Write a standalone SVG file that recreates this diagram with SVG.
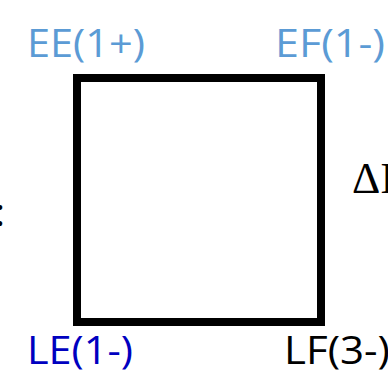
<svg xmlns="http://www.w3.org/2000/svg" width="388" height="389" viewBox="0 0 388 389">
<style>
.lbl{font-family:"Open Sans","Noto Sans",sans-serif;font-size:38px}
.lb{fill:#5B9BD5}
.db{fill:#0000C0}
.bk{fill:#000}
.ser{font-family:"Liberation Serif",serif;font-size:44px;fill:#000}
</style>
<rect width="388" height="389" fill="#fff"/>
<g id="box">
<rect x="77" y="78" width="244" height="244" fill="none" stroke="#000" stroke-width="8"/>
</g>
<g id="ee"><text class="lbl lb" x="27" y="57" textLength="118" lengthAdjust="spacingAndGlyphs">EE(1+)</text></g>
<g id="ef"><text class="lbl lb" x="275" y="57" textLength="110" lengthAdjust="spacingAndGlyphs">EF(1-)</text></g>
<g id="le"><text class="lbl db" x="27" y="364" textLength="106" lengthAdjust="spacingAndGlyphs">LE(1-)</text></g>
<g id="lf"><text class="lbl bk" x="284" y="364" textLength="106" lengthAdjust="spacingAndGlyphs">LF(3-)</text></g>
<g id="di"><text class="ser" x="352" y="193">ΔI</text></g>
<g id="colon"><text class="lbl bk" x="-5" y="226">:</text></g>
</svg>
